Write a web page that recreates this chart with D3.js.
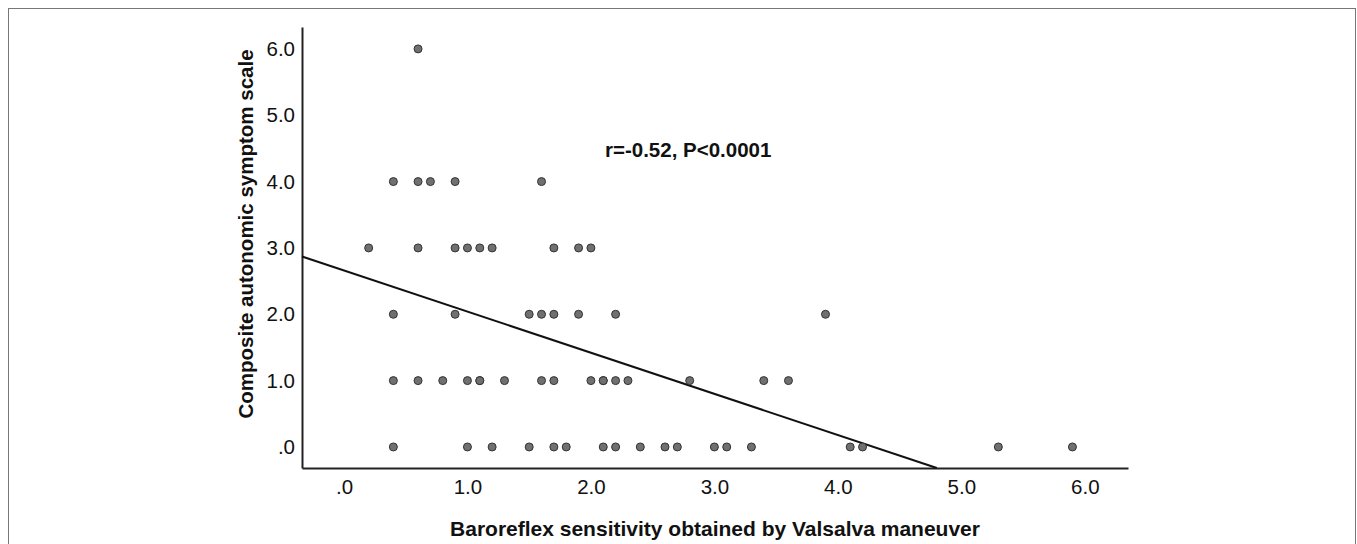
<!DOCTYPE html>
<html>
<head>
<meta charset="utf-8">
<script src="https://cdn.jsdelivr.net/npm/d3@7"></script>
<style>
  body { margin: 0; background: #fff; }
  svg text { font-family: Arial, "Liberation Sans", sans-serif; fill: #111; }
</style>
</head>
<body>
<div id="vis"></div>
<script>
// Dados (BRS x escala composta de sintomas)
const bsr  = [0.6,
              0.4, 0.6, 0.7, 0.9, 1.6,
              0.2, 0.6, 0.9, 1.0, 1.1, 1.2, 1.7, 1.9, 2.0,
              0.4, 0.9, 1.5, 1.6, 1.7, 1.9, 2.2, 3.9,
              0.4, 0.6, 0.8, 1.0, 1.1, 1.1, 1.3, 1.6, 1.7, 2.0, 2.1, 2.1, 2.2, 2.3, 2.8, 3.4, 3.6,
              0.4, 1.0, 1.2, 1.5, 1.7, 1.8, 2.1, 2.2, 2.4, 2.6, 2.7, 3.0, 3.1, 3.3, 4.1, 4.2, 5.3, 5.9];
const cass = [6,
              4, 4, 4, 4, 4,
              3, 3, 3, 3, 3, 3, 3, 3, 3,
              2, 2, 2, 2, 2, 2, 2, 2,
              1, 1, 1, 1, 1, 1, 1, 1, 1, 1, 1, 1, 1, 1, 1, 1, 1,
              0, 0, 0, 0, 0, 0, 0, 0, 0, 0, 0, 0, 0, 0, 0, 0, 0, 0];

// Reta de regressão
const intercept = 2.66;
const slope = -0.62;

const xTicks = [0, 1, 2, 3, 4, 5, 6];
const yTicks = [0, 1, 2, 3, 4, 5, 6];
const fmt = v => v === 0 ? ".0" : v.toFixed(1);

const W = 1357, H = 544;

const svg = d3.select("#vis").append("svg")
    .attr("width", W)
    .attr("height", H);

// moldura
svg.append("rect")
    .attr("x", 8.5).attr("y", 8.5)
    .attr("width", 1347).attr("height", 560)
    .attr("fill", "none")
    .attr("stroke", "#777")
    .attr("stroke-width", 1);

const x = d3.scaleLinear().domain([-0.34, 6.35]).range([302, 1128]);
const y = d3.scaleLinear().domain([-0.317, 6.33]).range([468, 27]);

// eixos
const xAxis = svg.append("g")
    .attr("transform", `translate(0, ${y.range()[0]})`)
    .call(d3.axisBottom(x).tickValues(xTicks).tickFormat(fmt).tickSize(0).tickPadding(11));
xAxis.select(".domain").attr("stroke", "#222").attr("stroke-width", 2);
xAxis.selectAll("text").attr("font-size", 20.5).attr("font-family", null).attr("fill", "#111");

const yAxis = svg.append("g")
    .attr("transform", `translate(${x.range()[0]}, 0)`)
    .call(d3.axisLeft(y).tickValues(yTicks).tickFormat(fmt).tickSize(0).tickPadding(7));
yAxis.select(".domain").attr("stroke", "#222").attr("stroke-width", 2);
yAxis.selectAll("text").attr("font-size", 20.5).attr("font-family", null).attr("fill", "#111");

// reta (recortada à área do gráfico)
const xEnd = (y.domain()[0] - intercept) / slope;
svg.append("line")
    .attr("x1", x(x.domain()[0]))
    .attr("y1", y(intercept + slope * x.domain()[0]))
    .attr("x2", x(xEnd))
    .attr("y2", y(intercept + slope * xEnd))
    .attr("stroke", "#111")
    .attr("stroke-width", 2);

// pontos
svg.selectAll("circle.pt")
    .data(bsr.map((v, i) => ({ bsr: v, cass: cass[i] })))
    .enter()
    .append("circle")
    .attr("class", "pt")
    .attr("cx", d => x(d.bsr))
    .attr("cy", d => y(d.cass))
    .attr("r", 4)
    .attr("fill", "#707070")
    .attr("stroke", "#333")
    .attr("stroke-width", 1);

// anotação
svg.append("text")
    .attr("x", 605).attr("y", 157)
    .attr("font-size", 20.5)
    .attr("font-weight", "bold")
    .text("r=-0.52, P<0.0001");

// títulos
svg.append("text")
    .attr("x", 715).attr("y", 536)
    .attr("text-anchor", "middle")
    .attr("font-size", 21)
    .attr("font-weight", "bold")
    .text("Baroreflex sensitivity obtained by Valsalva maneuver");

svg.append("text")
    .attr("transform", "translate(253, 234) rotate(-90)")
    .attr("text-anchor", "middle")
    .attr("font-size", 20.5)
    .attr("font-weight", "bold")
    .text("Composite autonomic symptom scale");
</script>
</body>
</html>
